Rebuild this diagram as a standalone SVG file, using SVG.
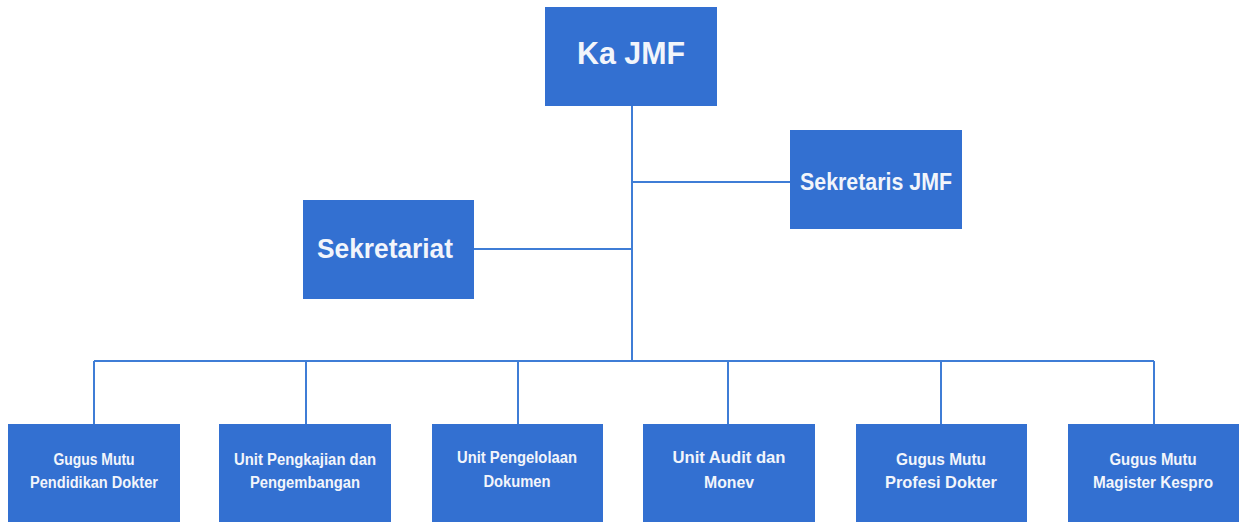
<svg xmlns="http://www.w3.org/2000/svg" width="1241" height="522" viewBox="0 0 1241 522">
  <style>
    .box { fill: #3370d1; }
    .lbl { fill: #f2f5fb; font-family: "Liberation Sans", Arial, sans-serif; font-weight: bold; text-anchor: middle; }
    .conn { stroke: #3f7dd6; stroke-width: 2; fill: none; }
  </style>
  <rect x="0" y="0" width="1241" height="522" fill="#ffffff"/>
  <g id="connectors">
    <path class="conn" d="M632 106 V361"/>
    <path class="conn" d="M632 182 H790"/>
    <path class="conn" d="M474 249 H632"/>
    <path class="conn" d="M94 361 H1154"/>
    <path class="conn" d="M94 361 V424"/>
    <path class="conn" d="M306 361 V424"/>
    <path class="conn" d="M518 361 V424"/>
    <path class="conn" d="M728 361 V424"/>
    <path class="conn" d="M941 361 V424"/>
    <path class="conn" d="M1154 361 V424"/>
  </g>
  <g id="ka-jmf">
    <rect class="box" x="545" y="7" width="172" height="99"/>
    <text class="lbl" x="631" y="64" font-size="31" textLength="108" lengthAdjust="spacingAndGlyphs">Ka JMF</text>
  </g>
  <g id="sekretaris-jmf">
    <rect class="box" x="790" y="130" width="172" height="99"/>
    <text class="lbl" x="876" y="190" font-size="23" textLength="152" lengthAdjust="spacingAndGlyphs">Sekretaris JMF</text>
  </g>
  <g id="sekretariat">
    <rect class="box" x="303" y="200" width="171" height="99"/>
    <text class="lbl" x="385" y="258" font-size="28" textLength="136" lengthAdjust="spacingAndGlyphs">Sekretariat</text>
  </g>
  <g id="gugus-mutu-pendidikan">
    <rect class="box" x="8" y="424" width="172" height="100"/>
    <text class="lbl" x="94" y="465" font-size="16" textLength="81" lengthAdjust="spacingAndGlyphs">Gugus Mutu</text>
    <text class="lbl" x="94" y="488" font-size="16" textLength="128" lengthAdjust="spacingAndGlyphs">Pendidikan Dokter</text>
  </g>
  <g id="unit-pengkajian">
    <rect class="box" x="219" y="424" width="172" height="100"/>
    <text class="lbl" x="305" y="465" font-size="16" textLength="142" lengthAdjust="spacingAndGlyphs">Unit Pengkajian dan</text>
    <text class="lbl" x="305" y="488" font-size="16" textLength="110" lengthAdjust="spacingAndGlyphs">Pengembangan</text>
  </g>
  <g id="unit-pengelolaan">
    <rect class="box" x="432" y="424" width="171" height="100"/>
    <text class="lbl" x="517" y="463" font-size="16" textLength="120" lengthAdjust="spacingAndGlyphs">Unit Pengelolaan</text>
    <text class="lbl" x="517" y="487" font-size="16" textLength="67" lengthAdjust="spacingAndGlyphs">Dokumen</text>
  </g>
  <g id="unit-audit">
    <rect class="box" x="643" y="424" width="172" height="100"/>
    <text class="lbl" x="729" y="463" font-size="17" textLength="113" lengthAdjust="spacingAndGlyphs">Unit Audit dan</text>
    <text class="lbl" x="729" y="488" font-size="17" textLength="50" lengthAdjust="spacingAndGlyphs">Monev</text>
  </g>
  <g id="gugus-mutu-profesi">
    <rect class="box" x="856" y="424" width="171" height="100"/>
    <text class="lbl" x="941" y="465" font-size="17" textLength="90" lengthAdjust="spacingAndGlyphs">Gugus Mutu</text>
    <text class="lbl" x="941" y="488" font-size="17" textLength="112" lengthAdjust="spacingAndGlyphs">Profesi Dokter</text>
  </g>
  <g id="gugus-mutu-magister">
    <rect class="box" x="1068" y="424" width="171" height="100"/>
    <text class="lbl" x="1153" y="465" font-size="17" textLength="87" lengthAdjust="spacingAndGlyphs">Gugus Mutu</text>
    <text class="lbl" x="1153" y="488" font-size="17" textLength="120" lengthAdjust="spacingAndGlyphs">Magister Kespro</text>
  </g>
</svg>
